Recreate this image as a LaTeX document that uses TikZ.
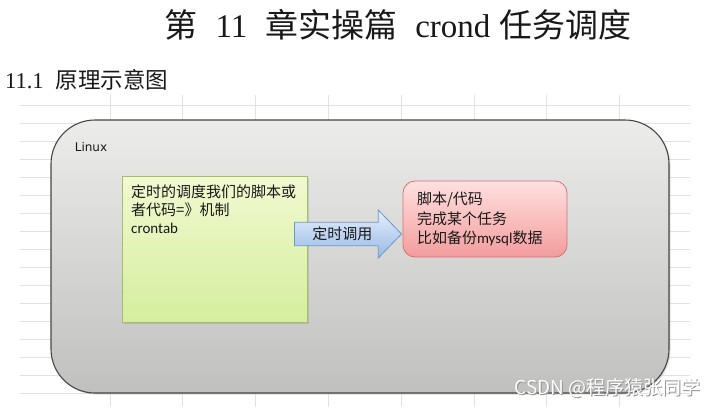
\documentclass[tikz,border=0pt]{standalone}
\usepackage{fontspec}
\setmainfont{Carlito}
\newfontfamily\cjk{Noto Sans CJK SC}
\newfontfamily\timesfont{Liberation Serif}
\newfontfamily\dejavu{DejaVu Sans}
\usetikzlibrary{shapes.arrows,shadows}
\definecolor{gridgray}{RGB}{226,226,226}
\definecolor{paneltop}{RGB}{236,236,235}
\definecolor{panelbottom}{RGB}{192,193,191}
\definecolor{panelline}{RGB}{70,70,70}
\definecolor{greentop}{RGB}{241,249,208}
\definecolor{greenbottom}{RGB}{212,238,158}
\definecolor{greenline}{RGB}{165,188,105}
\definecolor{redtop}{RGB}{255,224,224}
\definecolor{redbottom}{RGB}{243,156,156}
\definecolor{redline}{RGB}{220,110,110}
\definecolor{bluetop}{RGB}{230,239,252}
\definecolor{bluebottom}{RGB}{150,185,228}
\definecolor{blueline}{RGB}{110,150,205}
\definecolor{ink}{RGB}{25,25,25}
\tikzset{
  panel/.style={draw=panelline, line width=1.1pt, rounded corners=44pt,
    top color=paneltop, bottom color=panelbottom,
    minimum width=618pt, minimum height=273pt, inner sep=0pt,
    drop shadow={opacity=0.25, shadow xshift=1.5pt, shadow yshift=-1.5pt}},
  notebox/.style={draw=greenline, line width=0.8pt,
    top color=greentop, bottom color=greenbottom,
    minimum width=185pt, minimum height=146pt, inner sep=0pt,
    drop shadow={opacity=0.25, shadow xshift=1.5pt, shadow yshift=-1.5pt}},
  taskbox/.style={draw=redline, line width=0.8pt, rounded corners=12pt,
    top color=redtop, bottom color=redbottom,
    text width=136pt, inner xsep=14pt, minimum height=76pt, align=left,
    text=ink, font=\fontsize{15}{19.5}\selectfont},
  callarrow/.style={single arrow, draw=blueline, line width=0.8pt,
    top color=bluetop, bottom color=bluebottom,
    minimum height=107pt, minimum width=48pt, inner xsep=0pt, inner ysep=3pt,
    single arrow head extend=11pt, single arrow tip angle=92,
    text=ink, font=\cjk\fontsize{15}{18}\selectfont},
  notetext/.style={align=left, inner sep=0pt, text=ink,
    font=\fontsize{15}{18}\selectfont},
  markfont/.style={font=\cjk\fontsize{19}{21}\selectfont}
}
\begin{document}
\begin{tikzpicture}[x=1pt,y=-1pt]
  \useasboundingbox (0,0) rectangle (719,407);
  \fill[white] (0,0) rectangle (719,407);
  % Grid of the sheet
  \foreach \y in {105,123,...,393}
    \draw[gridgray, line width=0.8pt] (20,\y) -- (690,\y);
  \foreach \i in {0,...,7}
    \draw[gridgray, line width=0.8pt] ({110+72.8*\i},95) -- ({110+72.8*\i},407);
  % Headings
  \node[text=ink, font=\timesfont\fontsize{33}{36}\selectfont] (title) at (398,25)
    {{\cjk 第}\hspace{18pt}11\hspace{18pt}{\cjk 章实操篇}\hspace{18pt}crond\hspace{9pt}{\cjk 任务调度}};
  \node[text=ink, anchor=west, inner sep=0pt, font=\timesfont\fontsize{22.5}{26}\selectfont] (section) at (5,80)
    {11.1\hspace{12pt}{\cjk 原理示意图}};
  % Linux machine
  \node[panel] (linux) at (360,256.5) {};
  \node[text=ink, font=\dejavu\fontsize{12}{14}\selectfont] (linuxlabel) at (91,147) {Linux};
  % crontab note
  \node[notebox] (crontab) at (214.5,249) {};
  \node[notetext, anchor=north west] (crontabtext) at (131,185)
    {{\cjk 定时的调度我们的脚本或}\\{\cjk 者代码=》机制}\\crontab};
  % Script to run
  \node[taskbox] (script) at (485,219)
    {{\cjk 脚本/代码}\\{\cjk 完成某个任务}\\{\cjk 比如备份}mysql{\cjk 数据}};
  % Call
  \node[callarrow, anchor=tip] (call) at (402,234) {定时调用};
  % Watermark
  \node[text=gray!85, markfont] (wmshadow) at (608.5,389) {CSDN @程序猿张同学};
  \node[text=white, markfont] (watermark) at (607.5,388) {CSDN @程序猿张同学};
\end{tikzpicture}
\end{document}
